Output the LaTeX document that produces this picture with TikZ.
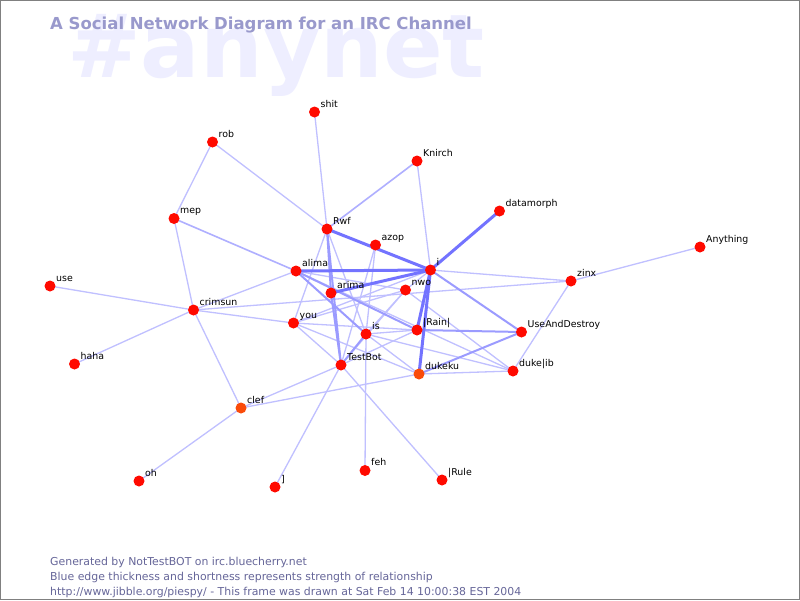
\documentclass[tikz,border=0pt]{standalone}
\usepackage{fontspec}
\setmainfont{DejaVu Sans}
\pgfdeclarelayer{wm}
\pgfdeclarelayer{edges}
\pgfsetlayers{wm,edges,main}
\definecolor{titlec}{RGB}{153,153,204}
\definecolor{wmc}{RGB}{238,238,255}
\definecolor{footc}{RGB}{102,102,153}
\definecolor{ethin}{RGB}{192,192,255}
\definecolor{ethinb}{RGB}{175,175,255}
\definecolor{emed}{RGB}{155,155,255}
\definecolor{ethick}{RGB}{115,115,255}
\definecolor{nodered}{RGB}{255,10,0}
\definecolor{nodeorange}{RGB}{250,75,10}
\tikzset{
  pn/.style={circle, fill=nodered, minimum size=11pt, inner sep=0pt},
  po/.style={circle, fill=nodeorange, minimum size=11pt, inner sep=0pt},
  lbl/.style={anchor=base west, inner sep=0pt, font=\fontsize{9.4}{11}\selectfont, text=black},
  ea/.style={draw=ethin, line width=1.3pt},
  eab/.style={draw=ethinb, line width=1.6pt},
  eb/.style={draw=emed, line width=2pt},
  ec/.style={draw=ethick, line width=3pt},
  foot/.style={anchor=base west, inner sep=0pt, font=\fontsize{10.9}{13}\selectfont, text=footc},
}
\newcommand\pnode[4]{%
  \node[#4] (#1) at (#2) {};
  \node[lbl] (#1-l) at ([shift={(6pt,5pt)}]#1.center) {#3};}
\begin{document}
\begin{tikzpicture}[x=1pt,y=-1pt]
\useasboundingbox (0,0) rectangle (800,600);

\begin{pgfonlayer}{wm}
\fill[white] (0,0) rectangle (800,600);
\node[anchor=base west, inner sep=0pt, text=wmc, font=\fontsize{88}{88}\selectfont\bfseries] (wm) at (67,77) {\#anynet};
\end{pgfonlayer}
\draw[gray, line width=1pt] (0.5,0.5) rectangle (799.5,599.5);
\node[anchor=base west, inner sep=0pt, text=titlec, font=\fontsize{16.5}{18}\selectfont\bfseries] (title) at (50,29) {A Social Network Diagram for an IRC Channel};

\pnode{shit}{314.5,112}{shit}{pn}
\pnode{rob}{212.5,142}{rob}{pn}
\pnode{knirch}{417,161}{Knirch}{pn}
\pnode{datamorph}{499.5,211}{datamorph}{pn}
\pnode{mep}{174,218.5}{mep}{pn}
\pnode{rwf}{327,229}{Rwf}{pn}
\pnode{azop}{375.5,245}{azop}{pn}
\pnode{anything}{700,247}{Anything}{pn}
\pnode{i}{430.5,270}{i}{pn}
\pnode{alima}{296,271}{alima}{pn}
\pnode{zinx}{571,281}{zinx}{pn}
\pnode{use}{50,286}{use}{pn}
\pnode{arima}{331,293}{arima}{pn}
\pnode{nwo}{405.5,290}{nwo}{pn}
\pnode{crimsun}{193.5,310}{crimsun}{pn}
\pnode{you}{293.5,323}{you}{pn}
\pnode{is}{366,334}{is}{pn}
\pnode{rain}{417,330}{|Rain|}{pn}
\pnode{uad}{521.5,332}{UseAndDestroy}{pn}
\pnode{testbot}{341,365}{TestBot}{pn}
\pnode{dukeku}{419,374}{dukeku}{po}
\pnode{dukelib}{513,371}{duke|ib}{pn}
\pnode{haha}{74.5,364}{haha}{pn}
\pnode{clef}{241,408}{clef}{po}
\pnode{oh}{139,481}{oh}{pn}
\pnode{br}{275,487}{]}{pn}
\pnode{feh}{365,470.5}{feh}{pn}
\pnode{rule}{442,480}{|Rule}{pn}

\begin{pgfonlayer}{edges}
\foreach \a/\b in {shit/rwf, rob/rwf, rob/mep, mep/crimsun, use/crimsun, haha/crimsun,
  crimsun/clef, crimsun/alima, crimsun/zinx, crimsun/you, knirch/i, zinx/anything,
  zinx/dukelib, zinx/i, dukeku/dukelib, is/dukelib, nwo/dukelib, alima/dukelib,
  rwf/is, rwf/you, alima/nwo, you/rain, you/testbot, you/dukeku, you/nwo, you/i,
  is/rain, is/nwo, is/feh, azop/is, azop/testbot, testbot/rain, testbot/nwo,
  testbot/clef, testbot/br, testbot/rule, clef/oh, clef/dukeku, is/dukeku, i/nwo}
  \draw[ea] (\a.center) -- (\b.center);
\foreach \a/\b in {mep/alima, rwf/knirch}
  \draw[eab] (\a.center) -- (\b.center);
\foreach \a/\b in {rwf/arima, rwf/testbot, alima/rain, alima/is,
  is/testbot, rain/uad, dukeku/uad, i/uad, arima/testbot}
  \draw[eb] (\a.center) -- (\b.center);
\foreach \a/\b in {rwf/i, alima/i, arima/i, i/datamorph, i/rain, i/dukeku}
  \draw[ec] (\a.center) -- (\b.center);
\end{pgfonlayer}

\node[foot] (f1) at (50,565) {Generated by NotTestBOT on irc.bluecherry.net};
\node[foot] (f2) at (50,580) {Blue edge thickness and shortness represents strength of relationship};
\node[foot] (f3) at (50,595) {http://www.jibble.org/piespy/ - This frame was drawn at Sat Feb 14 10:00:38 EST 2004};
\end{tikzpicture}
\end{document}
